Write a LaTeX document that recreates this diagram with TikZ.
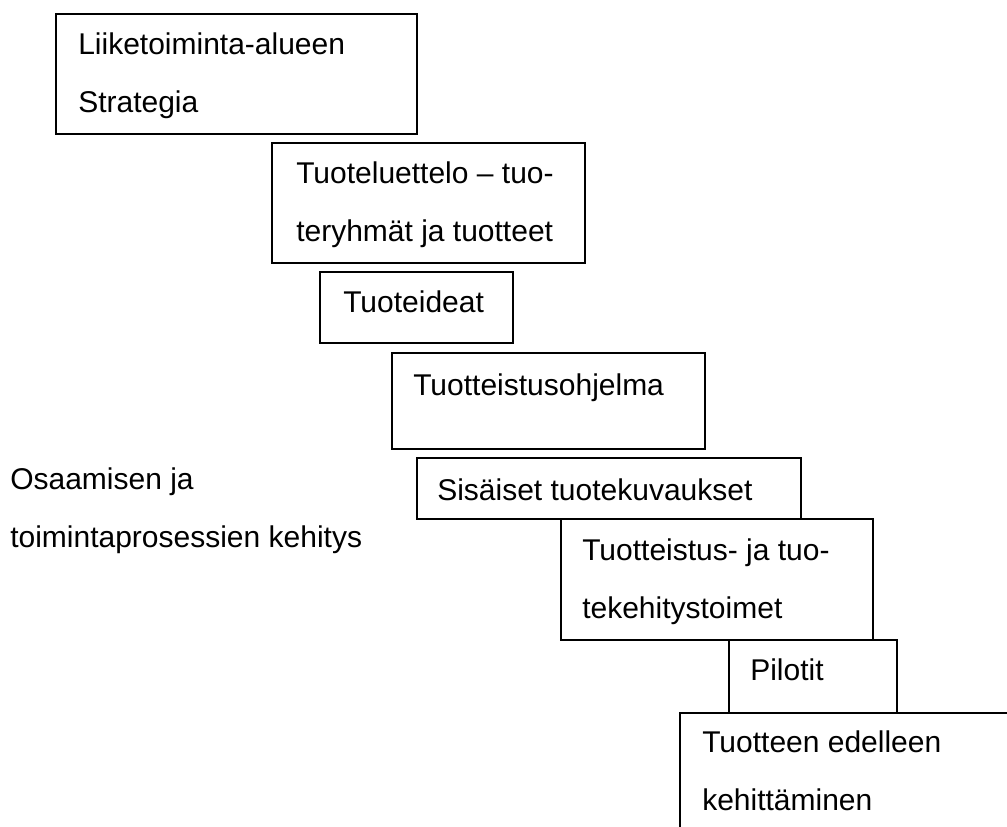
\documentclass[tikz,border=0pt]{standalone}
\usepackage{fontspec}
\setmainfont{Liberation Sans}
\usetikzlibrary{fit}

\tikzset{
  stage/.style={draw=black, line width=1.2pt, rectangle, inner sep=0pt},
  lbl/.style={anchor=base west, align=left, inner sep=0pt,
    font=\fontsize{22.5}{43.5}\selectfont}
}

\begin{document}
\begin{tikzpicture}[x=0.75pt, y=-0.75pt]

% Page (1007 x 827 px), last box runs off the edge
\path[use as bounding box, clip] (0,0) rectangle (1007,827);

% Boxes
\node[stage, fit={(56,14) (417,134)}] (strat) {};
\node[stage, fit={(272,143) (585,263)}] (luettelo) {};
\node[stage, fit={(320,272) (513,343)}] (ideat) {};
\node[stage, fit={(392,353) (705,449)}] (ohjelma) {};
\node[stage, fit={(417,458) (801,519)}] (kuvaus) {};
\node[stage, fit={(561,519) (873,640)}] (toimet) {};
\node[stage, fit={(729,640) (897,713)}] (pilotit) {};
\node[stage, fit={(680,713) (1030,860)}] (jatko) {};

% Texts (base = baseline of the last line)
\node[lbl] (stratT) at (78,113) {Liiketoiminta-alueen\\Strategia};
\node[lbl] (luetteloT) at (296,242) {Tuoteluettelo – tuo-\\teryhmät ja tuotteet};
\node[lbl] (ideatT) at (343,313) {Tuoteideat};
\node[lbl] (ohjelmaT) at (413,395) {Tuotteistusohjelma};
\node[lbl] (kuvausT) at (437,500) {Sisäiset tuotekuvaukset};
\node[lbl] (toimetT) at (582,618) {Tuotteistus- ja tuo-\\tekehitystoimet};
\node[lbl] (pilotitT) at (750,680) {Pilotit};
\node[lbl] (jatkoT) at (702,810) {Tuotteen edelleen\\kehittäminen};

% Side note
\node[lbl] (osaam) at (10,547) {Osaamisen ja\\toimintaprosessien kehitys};

\end{tikzpicture}
\end{document}
